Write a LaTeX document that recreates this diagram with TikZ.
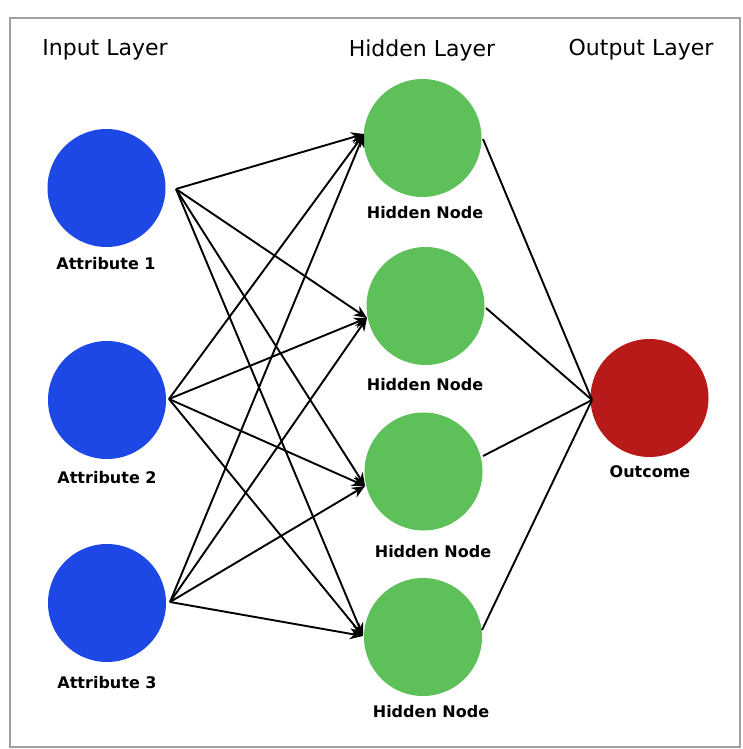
\documentclass[tikz,border=0pt]{standalone}
\usepackage{fontspec}
\setmainfont{DejaVu Sans}
\usetikzlibrary{arrows.meta}
\definecolor{inblue}{RGB}{30,72,230}
\definecolor{hidgreen}{RGB}{94,192,88}
\definecolor{outred}{RGB}{184,26,26}
\definecolor{framegray}{RGB}{160,160,160}
\tikzset{
  neuron/.style={circle, minimum size=118pt, inner sep=0pt, draw=none},
  layertitle/.style={font=\fontsize{22pt}{24pt}\selectfont, anchor=center},
  nodelabel/.style={font=\bfseries\fontsize{16pt}{18pt}\selectfont, anchor=center},
  link/.style={line width=1.9pt, black},
  feed/.style={link, -{Stealth[length=13pt,width=11pt]}}
}
\begin{document}
\begin{tikzpicture}[x=1pt,y=-1pt]
  \useasboundingbox (0,0) rectangle (743,749);
  \draw[framegray, line width=1.8pt] (10,18) rectangle (740,747);

  % layer headings
  \node[layertitle] (tin)  at (105,50) {Input Layer};
  \node[layertitle] (thid) at (422,50) {Hidden Layer};
  \node[layertitle] (tout) at (641,50) {Output Layer};

  % input neurons
  \node[neuron, fill=inblue] (a1) at (106.5,188) {};
  \node[neuron, fill=inblue] (a2) at (107,400) {};
  \node[neuron, fill=inblue] (a3) at (107,603) {};
  \node[nodelabel] (la1) at (106,264) {Attribute 1};
  \node[nodelabel] (la2) at (107,478) {Attribute 2};
  \node[nodelabel] (la3) at (107,683) {Attribute 3};

  % hidden neurons
  \node[neuron, fill=hidgreen] (h1) at (422.5,138) {};
  \node[neuron, fill=hidgreen] (h2) at (425.5,306) {};
  \node[neuron, fill=hidgreen] (h3) at (423.5,471.5) {};
  \node[neuron, fill=hidgreen] (h4) at (423,637) {};
  \node[nodelabel] (lh1) at (425,213) {Hidden Node};
  \node[nodelabel] (lh2) at (425,385) {Hidden Node};
  \node[nodelabel] (lh3) at (433,552) {Hidden Node};
  \node[nodelabel] (lh4) at (431,712) {Hidden Node};

  % output neuron
  \node[neuron, fill=outred] (o) at (649.5,398) {};
  \node[nodelabel] (lo) at (650,472) {Outcome};

  % connection ports
  \coordinate (a1o) at (176,189);
  \coordinate (a2o) at (169,399);
  \coordinate (a3o) at (170,602);
  \coordinate (h1i) at (364,134);
  \coordinate (h2i) at (367,318);
  \coordinate (h3i) at (365,486);
  \coordinate (h4i) at (363,636);
  \coordinate (h1o) at (483,139);
  \coordinate (h2o) at (486,308);
  \coordinate (h3o) at (483,456);
  \coordinate (h4o) at (482,630);
  \coordinate (oi)  at (592,400);

  % input -> hidden
  \foreach \s in {a1o,a2o,a3o}{
    \foreach \t in {h1i,h2i,h3i,h4i}{
      \draw[feed] (\s) -- (\t);
    }
  }

  % hidden -> output
  \foreach \s in {h1o,h2o,h3o,h4o}{
    \draw[link] (\s) -- (oi);
  }
\end{tikzpicture}
\end{document}
